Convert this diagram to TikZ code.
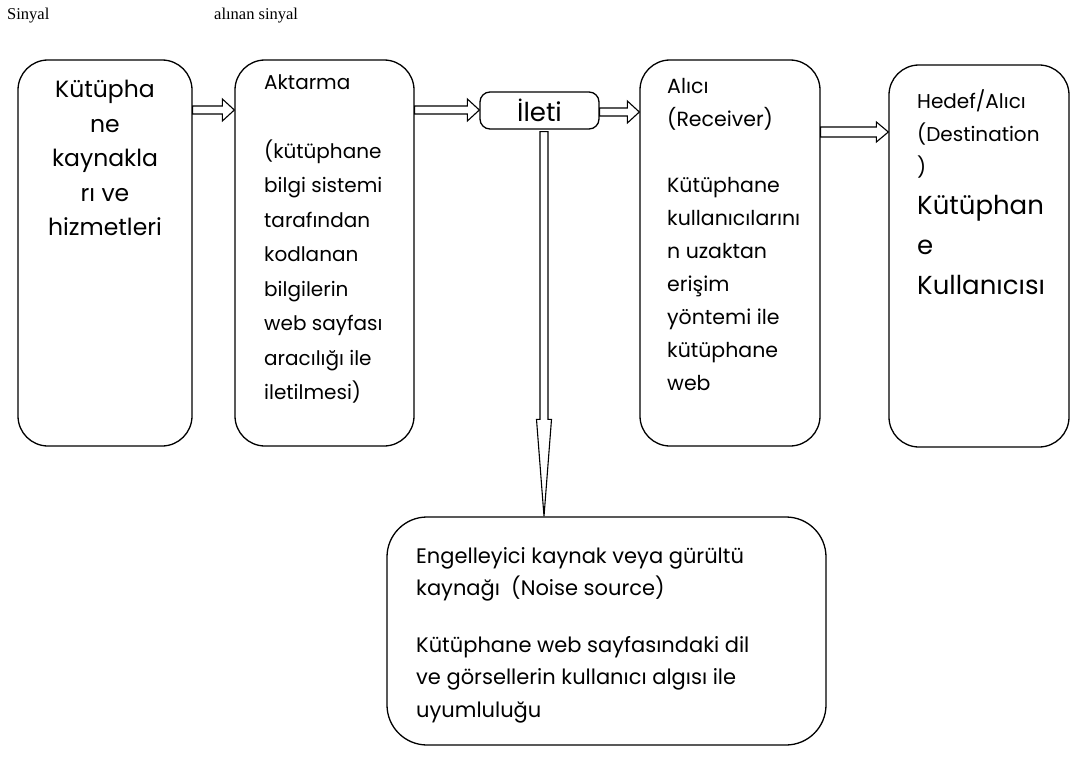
\documentclass[tikz,border=0pt]{standalone}
\usepackage{fontspec}
\setmainfont{Poppins}
\newfontfamily\serifA{Liberation Serif}
\usetikzlibrary{calc}
\newcommand\fs[2]{\fontsize{#1}{#2}\selectfont}
\tikzset{
  rbox/.style={draw, line width=1.3pt, rounded corners=30pt, inner sep=0pt},
  sbox/.style={draw, line width=1.3pt, rounded corners=10pt, inner sep=0pt},
  txt/.style={inner sep=0pt, align=left, anchor=north west},
  blk/.style={draw, line width=1.1pt, fill=white, line join=miter},
  toplabel/.style={inner sep=0pt, anchor=west, font=\serifA\fs{16.5}{18}}
}
% horizontal block arrow: from, to, shaft half-height, head half-height
\newcommand\blockarrowh[4]{%
  \draw[blk] let \p1=(#1), \p2=(#2) in
    (\x1,{\y1+#3}) -- ({\x2-12pt},{\y1+#3}) -- ({\x2-12pt},{\y1+#4}) -- (\x2,\y1)
    -- ({\x2-12pt},{\y1-#4}) -- ({\x2-12pt},{\y1-#3}) -- (\x1,{\y1-#3}) -- cycle;}
% vertical block arrow (downwards): from, to, shaft half-width, head half-width, head length
\newcommand\blockarrowv[5]{%
  \draw[blk] let \p1=(#1), \p2=(#2) in
    ({\x1-#3},\y1) -- ({\x1-#3},{\y2+#5}) -- ({\x1-#4},{\y2+#5}) -- (\x1,\y2)
    -- ({\x1+#4},{\y2+#5}) -- ({\x1+#3},{\y2+#5}) -- ({\x1+#3},\y1) -- cycle;}
\begin{document}
\begin{tikzpicture}[x=1pt,y=-1pt]
\useasboundingbox (0,0) rectangle (1085,773);

% top labels
\node[toplabel] (s1) at (7,16) {Sinyal};
\node[toplabel] (s2) at (214,16) {alınan sinyal};

% boxes
\node[rbox, minimum width=174pt, minimum height=386pt] (b1) at (105,253) {};
\node[rbox, minimum width=179pt, minimum height=386pt] (b2) at (324.5,253) {};
\node[sbox, minimum width=119pt, minimum height=37pt, font=\fs{26}{30}] (il) at (539.5,110.5) {İleti};
\node[rbox, minimum width=180pt, minimum height=386pt] (b4) at (730,253) {};
\node[rbox, minimum width=180pt, minimum height=382pt] (b5) at (979,256) {};
\node[rbox, rounded corners=40pt, minimum width=439pt, minimum height=228pt] (nb) at (606.5,631) {};

% texts
\node[txt, anchor=north, align=center, font=\fs{23.5}{34.5}] (t1) at (105,80)
  {Kütüpha\\ne\\kaynakla\\rı ve\\hizmetleri};
\node[txt, font=\fs{20}{34.5}] (t2) at (264,74)
  {Aktarma\\[34.5pt](kütüphane\\bilgi sistemi\\tarafından\\kodlanan\\bilgilerin\\web sayfası\\aracılığı ile\\iletilmesi)};
\node[txt, font=\fs{20.5}{33}] (t4) at (667,78)
  {Alıcı\\(Receiver)\\[33pt]Kütüphane\\kullanıcılarını\\n uzaktan\\erişim\\yöntemi ile\\kütüphane\\web};
\node[txt, font=\fs{20}{33}] (t5a) at (917,89)
  {Hedef/Alıcı\\(Destination\\)};
\node[txt, font=\fs{26}{40}] (t5b) at (917,195)
  {Kütüphan\\e\\Kullanıcısı};
\node[txt, font=\fs{21}{32.5}] (tn) at (416,547)
  {Engelleyici kaynak veya gürültü\\kaynağı\ \ (Noise source)\\[24pt]Kütüphane web sayfasındaki dil\\ve görsellerin kullanıcı algısı ile\\uyumluluğu};

% arrows
\coordinate (r1) at (0,110);
\coordinate (r3) at (0,112);
\coordinate (r4) at (0,132);
\blockarrowh{b1.east |- r1}{b2.west |- r1}{4pt}{11pt}
\blockarrowh{b2.east |- r1}{il.west |- r1}{4pt}{11pt}
\blockarrowh{il.east |- r3}{b4.west |- r3}{4pt}{11pt}
\blockarrowh{b4.east |- r4}{b5.west |- r4}{5pt}{10pt}
\coordinate (vs) at ($(il.south)+(4.5,2)$);
\blockarrowv{vs}{vs |- nb.north}{4pt}{7.5pt}{97pt}
\end{tikzpicture}
\end{document}
